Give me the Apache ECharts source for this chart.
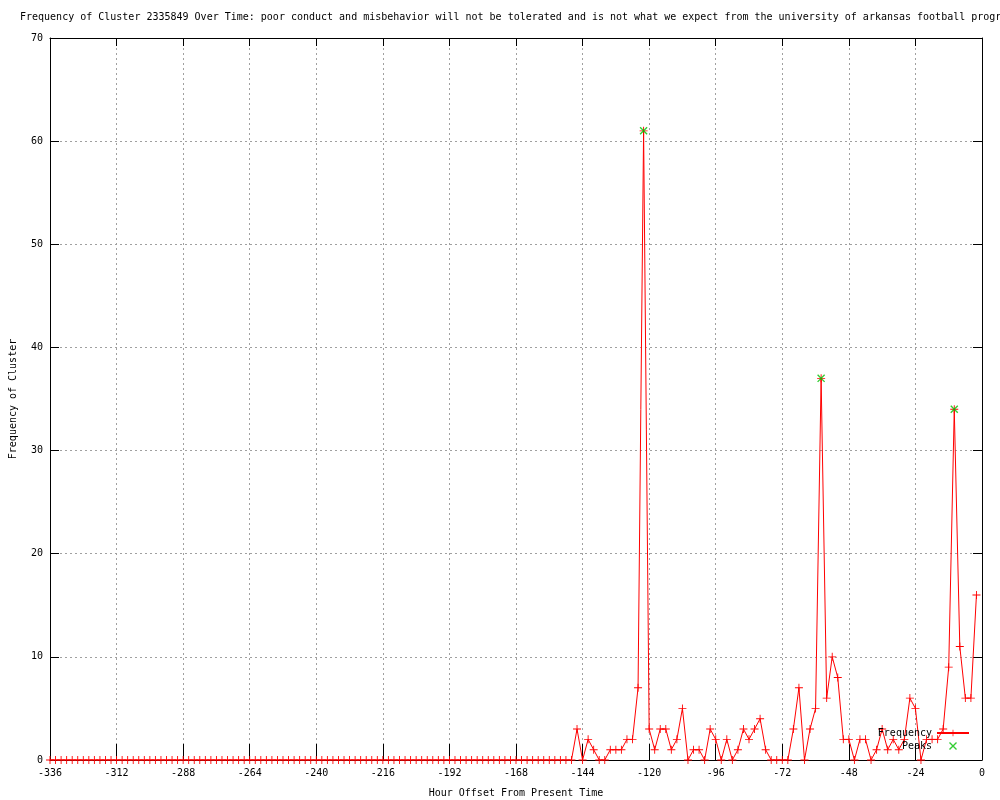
<!DOCTYPE html>
<html>
<head>
<meta charset="utf-8">
<script src="https://cdn.jsdelivr.net/npm/echarts@6/dist/echarts.min.js"></script>
<style>html,body{margin:0;padding:0;background:#fff}#c{width:1000px;height:800px}</style>
</head>
<body>
<div id="c"></div>
<script>
var titleText = 'Frequency of Cluster 2335849 Over Time: poor conduct and misbehavior will not be tolerated and is not what we expect from the university of arkansas football program';
var hours = [-336,-334,-332,-330,-328,-326,-324,-322,-320,-318,-316,-314,-312,-310,-308,-306,-304,-302,-300,-298,
  -296,-294,-292,-290,-288,-286,-284,-282,-280,-278,-276,-274,-272,-270,-268,-266,-264,-262,-260,-258,
  -256,-254,-252,-250,-248,-246,-244,-242,-240,-238,-236,-234,-232,-230,-228,-226,-224,-222,-220,-218,
  -216,-214,-212,-210,-208,-206,-204,-202,-200,-198,-196,-194,-192,-190,-188,-186,-184,-182,-180,-178,
  -176,-174,-172,-170,-168,-166,-164,-162,-160,-158,-156,-154,-152,-150,-148,
  -146,-144,-142,-140,-138,-136,-134,-132,-130,-128,-126,-124,-122,-120,-118,-116,-114,-112,-110,-108,
  -106,-104,-102,-100,-98,-96,-94,-92,-90,-88,-86,-84,-82,-80,-78,-76,-74,-72,-70,-68,
  -66,-64,-62,-60,-58,-56,-54,-52,-50,-48,-46,-44,-42,-40,-38,-36,-34,-32,-30,-28,
  -26,-24,-22,-20,-18,-16,-14,-12,-10,-8,-6,-4,-2];
var frequency = [0,0,0,0,0,0,0,0,0,0,0,0,0,0,0,0,0,0,0,0,
  0,0,0,0,0,0,0,0,0,0,0,0,0,0,0,0,0,0,0,0,
  0,0,0,0,0,0,0,0,0,0,0,0,0,0,0,0,0,0,0,0,
  0,0,0,0,0,0,0,0,0,0,0,0,0,0,0,0,0,0,0,0,
  0,0,0,0,0,0,0,0,0,0,0,0,0,0,0,
  3,0,2,1,0,0,1,1,1,2,2,7,61,3,1,3,3,1,2,5,
  0,1,1,0,3,2,0,2,0,1,3,2,3,4,1,0,0,0,0,3,
  7,0,3,5,37,6,10,8,2,2,0,2,2,0,1,3,1,2,1,2,
  6,5,0,2,2,2,3,9,34,11,6,6,16];
var peakHours = [-122, -58, -10];
var peakValues = [61, 37, 34];
var xTicks = {min: -336, max: 0, interval: 24};
var yTicks = {min: 0, max: 70, interval: 10};

var FONT = 'DejaVu Sans Mono';
var plusPath = 'path://M0,4H9V5H0Z M4,0H5V9H4Z';
var crossPath = 'path://M0,1.1L1.1,0L9,7.9L7.9,9Z M7.9,0L9,1.1L1.1,9L0,7.9Z';

var freqData = hours.map(function (h, i) { return [h, frequency[i]]; });
var peakData = peakHours.map(function (h, i) { return [h, peakValues[i]]; });

var chart = echarts.init(document.getElementById('c'), null, {renderer: 'canvas'});
var gridLine = {show: true, lineStyle: {color: '#a0a0a0', type: [2, 3], width: 1}};
chart.setOption({
  animation: false,
  backgroundColor: '#ffffff',
  title: {
    text: titleText, left: 15, top: 7,
    textStyle: {fontFamily: FONT, fontSize: 10, fontWeight: 'normal', color: '#000'}
  },
  grid: {left: 50, right: 18, top: 38, bottom: 40, containLabel: false, outerBoundsMode: 'none'},
  legend: {
    orient: 'vertical', right: 25, top: 723, align: 'right',
    itemWidth: 32, itemHeight: 8, itemGap: 3,
    textStyle: {fontFamily: FONT, fontSize: 10, color: '#000', padding: [0, 0, 0, 0]},
    data: ['Frequency', 'Peaks']
  },
  xAxis: [{
    type: 'value', min: xTicks.min, max: xTicks.max, interval: xTicks.interval,
    name: 'Hour Offset From Present Time', nameLocation: 'middle', nameGap: 28,
    nameTextStyle: {fontFamily: FONT, fontSize: 10, color: '#000'},
    axisLine: {show: true, onZero: false, lineStyle: {color: '#000', width: 1}},
    axisTick: {show: true, inside: true, length: 16, lineStyle: {color: '#000'}},
    axisLabel: {fontFamily: FONT, fontSize: 10, color: '#000', margin: 8},
    splitLine: gridLine
  }, {
    type: 'value', position: 'top', min: xTicks.min, max: xTicks.max, interval: xTicks.interval,
    axisLine: {show: true, onZero: false, lineStyle: {color: '#000', width: 1}},
    axisTick: {show: true, inside: true, length: 8, lineStyle: {color: '#000'}},
    axisLabel: {show: false}, splitLine: {show: false}
  }],
  yAxis: [{
    type: 'value', min: yTicks.min, max: yTicks.max, interval: yTicks.interval,
    name: 'Frequency of Cluster', nameLocation: 'middle', nameGap: 32, nameRotate: 90,
    nameTextStyle: {fontFamily: FONT, fontSize: 10, color: '#000'},
    axisLine: {show: true, onZero: false, lineStyle: {color: '#000', width: 1}},
    axisTick: {show: true, inside: true, length: 9, lineStyle: {color: '#000'}},
    axisLabel: {fontFamily: FONT, fontSize: 10, color: '#000', margin: 7},
    splitLine: gridLine
  }, {
    type: 'value', position: 'right', min: yTicks.min, max: yTicks.max, interval: yTicks.interval,
    axisLine: {show: true, onZero: false, lineStyle: {color: '#000', width: 1}},
    axisTick: {show: true, inside: true, length: 9, lineStyle: {color: '#000'}},
    axisLabel: {show: false}, splitLine: {show: false}
  }],
  series: [{
    name: 'Frequency', type: 'line', data: freqData,
    xAxisIndex: 0, yAxisIndex: 0,
    showSymbol: true, showAllSymbol: true, symbol: plusPath, symbolSize: 8,
    itemStyle: {color: '#ff0000'},
    lineStyle: {color: '#ff0000', width: 1},
    emphasis: {disabled: true}, z: 3
  }, {
    name: 'Peaks', type: 'scatter', data: peakData,
    xAxisIndex: 0, yAxisIndex: 0,
    symbol: crossPath, symbolSize: 8,
    itemStyle: {color: '#00c000'},
    emphasis: {disabled: true}, z: 4
  }]
});
</script>
</body>
</html>
